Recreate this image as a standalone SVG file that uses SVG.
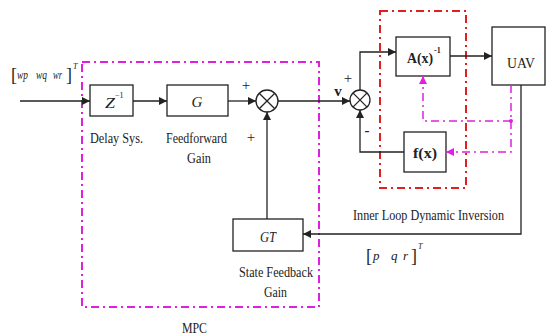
<svg xmlns="http://www.w3.org/2000/svg" width="546" height="336" viewBox="0 0 546 336">
<style>
.t{font-family:"Liberation Serif","Times New Roman",serif;font-size:15px;fill:#222}
.i{font-style:italic}
.b{font-weight:bold}
.sup{font-size:8px}
.m{font-size:13px}
.br{font-size:18px;font-style:normal}
.box{fill:#fff;stroke:#222;stroke-width:1.3}
.w{fill:none;stroke:#222;stroke-width:1.3}
.mg{fill:none;stroke:#e020e0;stroke-width:2;stroke-dasharray:8,4,2,4}
.rd{fill:none;stroke:#e02020;stroke-width:2;stroke-dasharray:8,4,2,4}
.ml{fill:none;stroke:#e020e0;stroke-width:1.5;stroke-dasharray:8,4,2,4}
</style>
<defs>
<marker id="ah" viewBox="0 0 10 10" refX="10" refY="5" markerWidth="8" markerHeight="8" markerUnits="userSpaceOnUse" orient="auto"><path d="M0,0L10,5L0,10z" fill="#222"/></marker>
<marker id="am" viewBox="0 0 10 10" refX="10" refY="5" markerWidth="8" markerHeight="8" markerUnits="userSpaceOnUse" orient="auto"><path d="M0,0L10,5L0,10z" fill="#e020e0"/></marker>
</defs>
<g id="mpc-frame"><rect class="mg" x="82" y="62" width="237" height="245"/><text class="t" x="182" y="333" textLength="25" lengthAdjust="spacingAndGlyphs">MPC</text></g>
<g id="inner-frame"><rect class="rd" x="380" y="11" width="86" height="177"/><text class="t" x="353" y="220" textLength="151" lengthAdjust="spacingAndGlyphs">Inner Loop Dynamic Inversion</text></g>
<g id="delay"><rect class="box" x="90" y="85" width="43" height="31"/><text class="t i" x="105" y="108" textLength="10" lengthAdjust="spacingAndGlyphs">Z</text><text class="t sup" x="115" y="98">−1</text><text class="t" x="90" y="143" textLength="53" lengthAdjust="spacingAndGlyphs">Delay Sys.</text></g>
<g id="ff"><rect class="box" x="167" y="85" width="61" height="31"/><text class="t i" x="197" y="107" text-anchor="middle">G</text><text class="t" x="166" y="143" textLength="61" lengthAdjust="spacingAndGlyphs">Feedforward</text><text class="t" x="187" y="163" textLength="24" lengthAdjust="spacingAndGlyphs">Gain</text></g>
<g id="sum1"><circle class="box" cx="267" cy="101" r="11"/><path class="w" d="M259.2,93.2L274.8,108.8M274.8,93.2L259.2,108.8"/><text class="t" x="246" y="90" text-anchor="middle" font-size="13">+</text><text class="t" x="251" y="142" text-anchor="middle" font-size="13">+</text></g>
<g id="gt"><rect class="box" x="233" y="219" width="70" height="32"/><text class="t i" x="260" y="242" textLength="16" lengthAdjust="spacingAndGlyphs">GT</text><text class="t" x="239" y="277" textLength="74" lengthAdjust="spacingAndGlyphs">State Feedback</text><text class="t" x="264" y="297" textLength="23" lengthAdjust="spacingAndGlyphs">Gain</text></g>
<g id="sum2"><circle class="box" cx="360" cy="100" r="10"/><path class="w" d="M352.9,92.9L367.1,107.1M367.1,92.9L352.9,107.1"/><text class="t" x="348" y="83" text-anchor="middle" font-size="13">+</text><text class="t b" x="338" y="96" text-anchor="middle">v</text><text class="t b" x="367" y="135" text-anchor="middle">-</text></g>
<g id="ainv"><rect class="box" x="396" y="37" width="54" height="39"/><text class="t b" x="407" y="63" textLength="26" lengthAdjust="spacingAndGlyphs">A(x)</text><text class="t b sup" x="434" y="53">-1</text></g>
<g id="fx"><rect class="box" x="404" y="132" width="42" height="40"/><text class="t b" x="413" y="158" textLength="24" lengthAdjust="spacingAndGlyphs">f(x)</text></g>
<g id="uav"><rect class="box" x="492" y="27" width="53" height="58"/><text class="t" x="507" y="68" textLength="28" lengthAdjust="spacingAndGlyphs">UAV</text></g>
<g id="labels">
<text class="t br" x="11" y="81">[</text>
<text class="t i m" x="17" y="79" textLength="11" lengthAdjust="spacingAndGlyphs">wp</text>
<text class="t i m" x="36" y="79" textLength="11" lengthAdjust="spacingAndGlyphs">wq</text>
<text class="t i m" x="53" y="79" textLength="9" lengthAdjust="spacingAndGlyphs">wr</text>
<text class="t br" x="66" y="81">]</text>
<text class="t i sup" x="73" y="69">T</text>
<text class="t br" x="366" y="262">[</text>
<text class="t i m" x="373" y="260">p</text>
<text class="t i m" x="391" y="260">q</text>
<text class="t i m" x="403" y="260">r</text>
<text class="t br" x="411" y="262">]</text>
<text class="t i sup" x="418" y="249">T</text>
</g>
<g id="connectors">
<path class="w" d="M20,101H90" marker-end="url(#ah)"/>
<path class="w" d="M133,101H167" marker-end="url(#ah)"/>
<path class="w" d="M228,101H256" marker-end="url(#ah)"/>
<path class="w" d="M267,219V112" marker-end="url(#ah)"/>
<path class="w" d="M278,101H350" marker-end="url(#ah)"/>
<path class="w" d="M360,90V52H396" marker-end="url(#ah)"/>
<path class="w" d="M450,56H492" marker-end="url(#ah)"/>
<path class="w" d="M404,152H360V110" marker-end="url(#ah)"/>
<path class="w" d="M521,85V234H303" marker-end="url(#ah)"/>
<path class="ml" d="M511,85V152H446" marker-end="url(#am)"/>
<path class="ml" d="M511,121H423V76" marker-end="url(#am)"/>
<circle cx="511" cy="121" r="2" fill="#e020e0"/>
</g>
</svg>
